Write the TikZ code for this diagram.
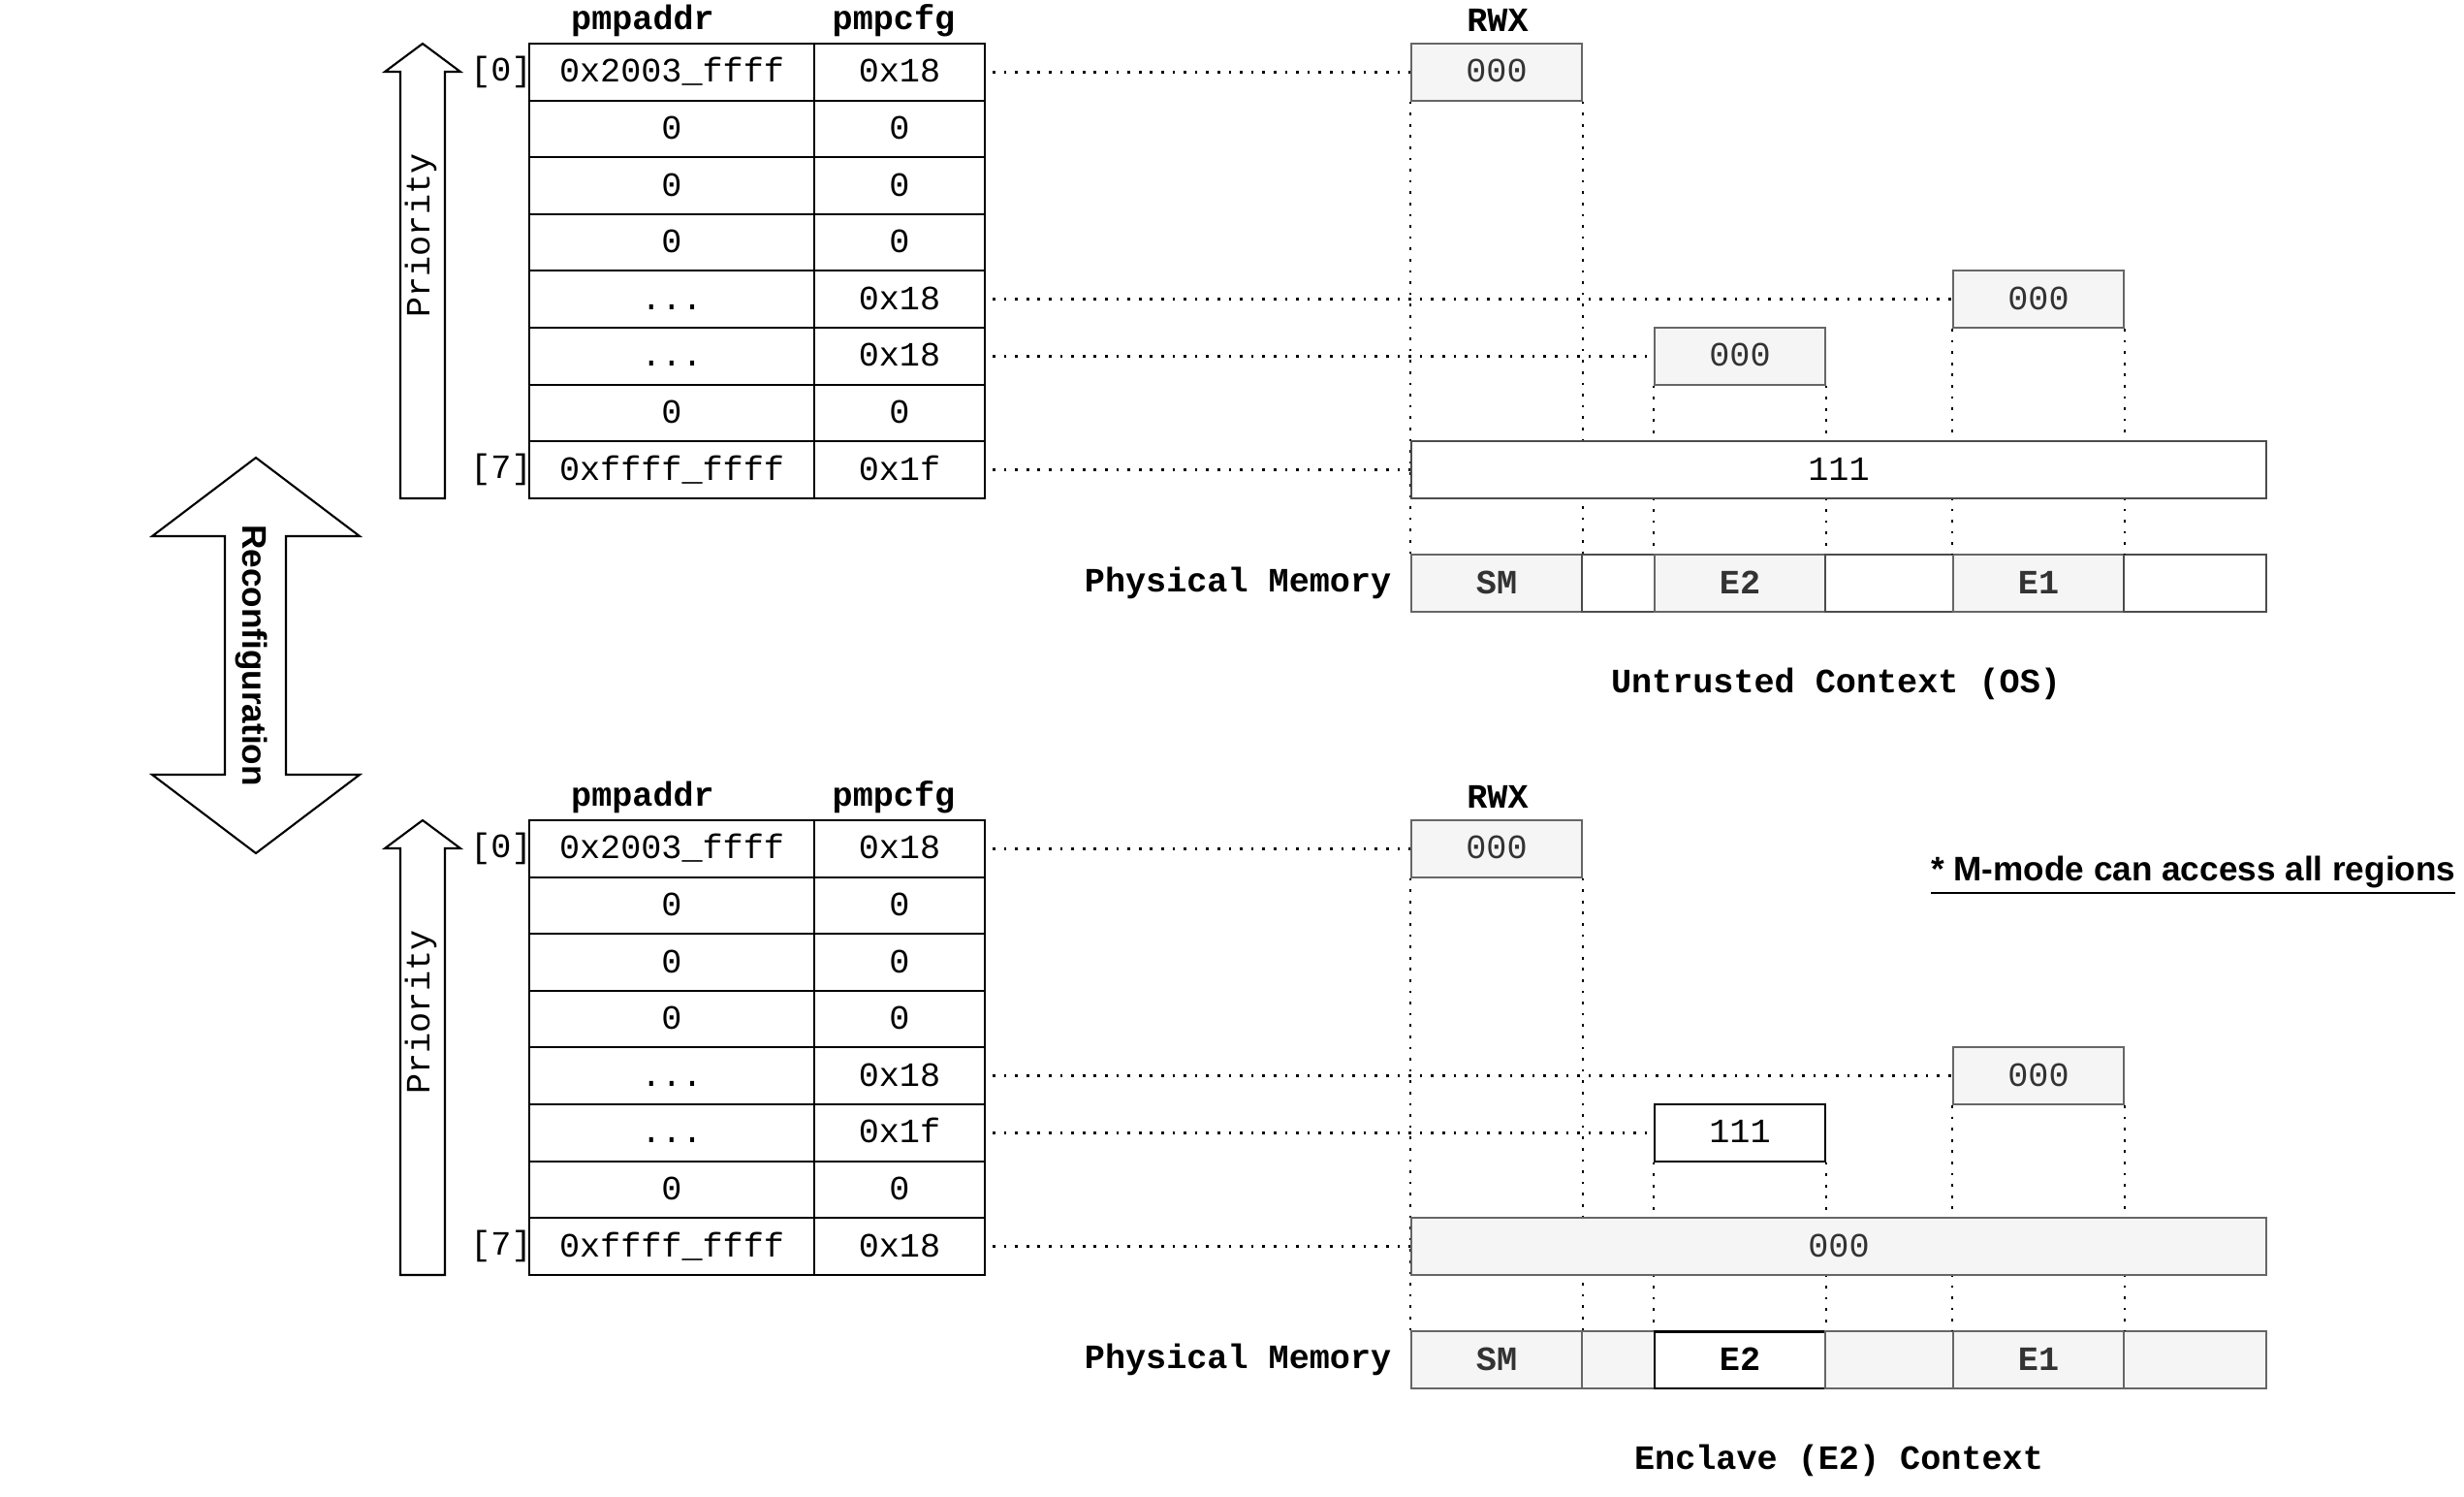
\documentclass[tikz,border=0pt]{standalone}
\usepackage{fontspec}
\setmainfont{Liberation Sans}
\newfontfamily\codefont{Liberation Mono}
\definecolor{boxgray}{HTML}{F5F5F5}
\definecolor{linegray}{HTML}{666666}
\definecolor{txtgray}{HTML}{333333}
\begin{document}
\begin{tikzpicture}
\tikzstyle{cell}=[draw,line width=0.6pt,minimum height=0.586cm,inner sep=0pt,text height=7pt,text depth=1pt,font=\codefont]
\tikzstyle{ac}=[cell,minimum width=2.94cm]
\tikzstyle{cc}=[cell,minimum width=1.76cm]
\tikzstyle{perm}=[draw=linegray,fill=boxgray,line width=0.6pt,minimum height=0.586cm,minimum width=1.76cm,inner sep=0pt,text height=7pt,text depth=1pt,font=\codefont,text=txtgray]
\tikzstyle{seg}=[perm,font=\codefont\bfseries]
\tikzstyle{hd}=[font=\codefont\bfseries]
\tikzstyle{guide}=[line width=0.75pt,dash pattern=on 0.75pt off 2.55pt]
\useasboundingbox (0,0) rectangle (25.42,-15.43);

% Reconfiguration arrow
\draw[line width=0.6pt] (2.64,-4.72) -- (3.71,-5.53) -- (2.95,-5.53) -- (2.95,-7.99) -- (3.71,-7.99) -- (2.64,-8.80)
  -- (1.57,-7.99) -- (2.32,-7.99) -- (2.32,-5.53) -- (1.57,-5.53) -- cycle;
\node[rotate=-90,font=\bfseries] (reconf) at (2.60,-6.76) {Reconfiguration};

% Upper: untrusted context
\draw[line width=0.6pt] (4.13,-5.14) -- (4.13,-0.74) -- (3.97,-0.74) -- (4.36,-0.45) -- (4.75,-0.74) -- (4.59,-0.74) -- (4.59,-5.14) -- cycle;
\node[rotate=90,font=\codefont] (uprio) at (4.34,-2.43) {Priority};

\node[hd] (uhaddr) at (6.63,-0.21) {pmpaddr};
\node[hd] (uhcfg) at (9.22,-0.21) {pmpcfg};
\node[hd] (uhrwx) at (15.45,-0.21) {RWX};
\node[font=\codefont] (ui0) at (5.17,-0.743) {[0]};
\node[font=\codefont] (ui7) at (5.17,-4.845) {[7]};
\node[ac] (ua0) at (6.93,-0.743) {0x2003\_ffff};
\node[cc] (uc0) at (9.28,-0.743) {0x18};
\node[ac] (ua1) at (6.93,-1.329) {0};
\node[cc] (uc1) at (9.28,-1.329) {0};
\node[ac] (ua2) at (6.93,-1.915) {0};
\node[cc] (uc2) at (9.28,-1.915) {0};
\node[ac] (ua3) at (6.93,-2.501) {0};
\node[cc] (uc3) at (9.28,-2.501) {0};
\node[ac] (ua4) at (6.93,-3.087) {...};
\node[cc] (uc4) at (9.28,-3.087) {0x18};
\node[ac] (ua5) at (6.93,-3.673) {...};
\node[cc] (uc5) at (9.28,-3.673) {0x18};
\node[ac] (ua6) at (6.93,-4.259) {0};
\node[cc] (uc6) at (9.28,-4.259) {0};
\node[ac] (ua7) at (6.93,-4.845) {0xffff\_ffff};
\node[cc] (uc7) at (9.28,-4.845) {0x1f};

\node[perm] (ub0) at (15.44,-0.743) {000};
\node[perm] (ub4) at (21.03,-3.087) {000};
\node[perm] (ub5) at (17.95,-3.673) {000};

\node[hd,anchor=east,inner sep=0pt] (uphys) at (14.36,-6.017) {Physical Memory};
\node[seg] (usm) at (15.44,-6.017) {SM};
\node[seg,fill=white,draw=black!70,minimum width=0.75cm] (ug1) at (16.695,-6.017) {};
\node[seg] (ue2) at (17.95,-6.017) {E2};
\node[seg,fill=white,draw=black!70,minimum width=1.32cm] (ug2) at (19.49,-6.017) {};
\node[seg] (ue1) at (21.03,-6.017) {E1};
\node[seg,fill=white,draw=black!70,minimum width=1.47cm] (ug3) at (22.645,-6.017) {};

\draw[guide] (ub0.south west) -- (ub0.south west |- usm.north);
\draw[guide] (ub0.south east) -- (ub0.south east |- usm.north);
\draw[guide] (ub5.south west) -- (ub5.south west |- usm.north);
\draw[guide] (ub5.south east) -- (ub5.south east |- usm.north);
\draw[guide] (ub4.south west) -- (ub4.south west |- usm.north);
\draw[guide] (ub4.south east) -- (ub4.south east |- usm.north);
\node[perm,fill=white,draw=black!70,text=black,minimum width=8.82cm] (ub7) at (18.97,-4.845) {111};

\draw[guide] ([xshift=2pt]uc0.east) -- (ub0.west);
\draw[guide] ([xshift=2pt]uc4.east) -- (ub4.west);
\draw[guide] ([xshift=2pt]uc5.east) -- (ub5.west);
\draw[guide] ([xshift=2pt]uc7.east) -- (ub7.west);

\node[hd] (uctx) at (18.94,-7.05) {Untrusted Context (OS)};

% Lower: enclave context
\draw[line width=0.6pt] (4.13,-13.15) -- (4.13,-8.75) -- (3.97,-8.75) -- (4.36,-8.46) -- (4.75,-8.75) -- (4.59,-8.75) -- (4.59,-13.15) -- cycle;
\node[rotate=90,font=\codefont] (lprio) at (4.34,-10.44) {Priority};

\node[hd] (lhaddr) at (6.63,-8.22) {pmpaddr};
\node[hd] (lhcfg) at (9.22,-8.22) {pmpcfg};
\node[hd] (lhrwx) at (15.45,-8.22) {RWX};
\node[font=\codefont] (li0) at (5.17,-8.753) {[0]};
\node[font=\codefont] (li7) at (5.17,-12.855) {[7]};
\node[ac] (la0) at (6.93,-8.753) {0x2003\_ffff};
\node[cc] (lc0) at (9.28,-8.753) {0x18};
\node[ac] (la1) at (6.93,-9.339) {0};
\node[cc] (lc1) at (9.28,-9.339) {0};
\node[ac] (la2) at (6.93,-9.925) {0};
\node[cc] (lc2) at (9.28,-9.925) {0};
\node[ac] (la3) at (6.93,-10.511) {0};
\node[cc] (lc3) at (9.28,-10.511) {0};
\node[ac] (la4) at (6.93,-11.097) {...};
\node[cc] (lc4) at (9.28,-11.097) {0x18};
\node[ac] (la5) at (6.93,-11.683) {...};
\node[cc] (lc5) at (9.28,-11.683) {0x1f};
\node[ac] (la6) at (6.93,-12.269) {0};
\node[cc] (lc6) at (9.28,-12.269) {0};
\node[ac] (la7) at (6.93,-12.855) {0xffff\_ffff};
\node[cc] (lc7) at (9.28,-12.855) {0x18};

\node[perm] (lb0) at (15.44,-8.753) {000};
\node[perm] (lb4) at (21.03,-11.097) {000};
\node[perm,fill=white,draw=black,text=black] (lb5) at (17.95,-11.683) {111};

\node[hd,anchor=east,inner sep=0pt] (lphys) at (14.36,-14.027) {Physical Memory};
\node[seg] (lsm) at (15.44,-14.027) {SM};
\node[seg,minimum width=0.75cm] (lg1) at (16.695,-14.027) {};
\node[seg,fill=white,draw=black,line width=0.8pt,text=black] (le2) at (17.95,-14.027) {E2};
\node[seg,minimum width=1.32cm] (lg2) at (19.49,-14.027) {};
\node[seg] (le1) at (21.03,-14.027) {E1};
\node[seg,minimum width=1.47cm] (lg3) at (22.645,-14.027) {};

\draw[guide] (lb0.south west) -- (lb0.south west |- lsm.north);
\draw[guide] (lb0.south east) -- (lb0.south east |- lsm.north);
\draw[guide] (lb5.south west) -- (lb5.south west |- lsm.north);
\draw[guide] (lb5.south east) -- (lb5.south east |- lsm.north);
\draw[guide] (lb4.south west) -- (lb4.south west |- lsm.north);
\draw[guide] (lb4.south east) -- (lb4.south east |- lsm.north);
\node[perm,minimum width=8.82cm] (lb7) at (18.97,-12.855) {000};

\draw[guide] ([xshift=2pt]lc0.east) -- (lb0.west);
\draw[guide] ([xshift=2pt]lc4.east) -- (lb4.west);
\draw[guide] ([xshift=2pt]lc5.east) -- (lb5.west);
\draw[guide] ([xshift=2pt]lc7.east) -- (lb7.west);

\node[hd] (lctx) at (18.97,-15.06) {Enclave (E2) Context};
\node[anchor=east,inner sep=0pt,font=\bfseries] (note) at (25.34,-9.03) {\underline{* M-mode can access all regions}};
\end{tikzpicture}
\end{document}
